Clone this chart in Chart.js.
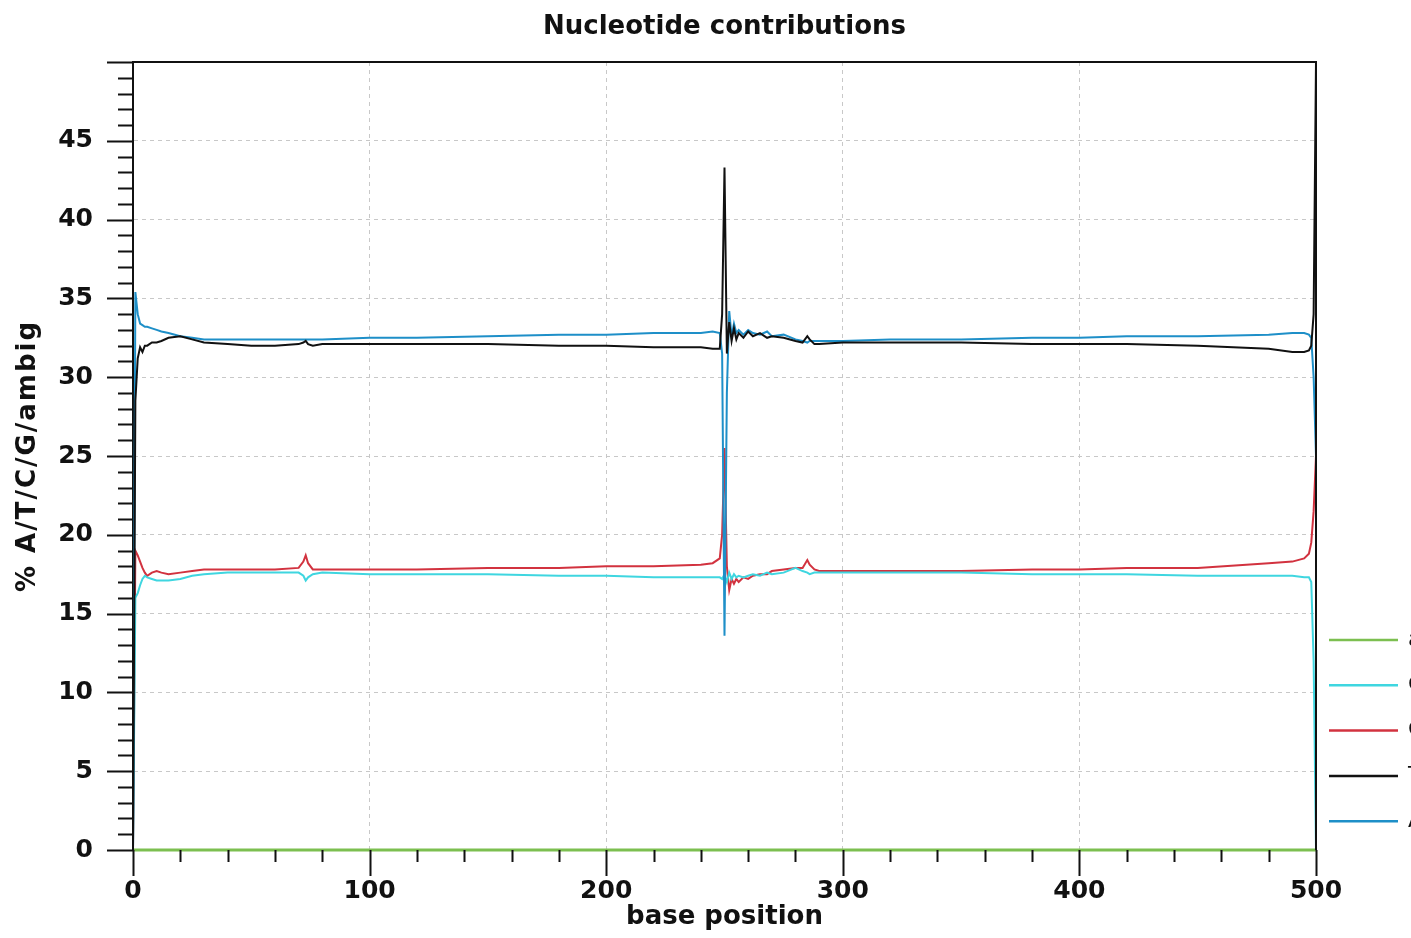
<!DOCTYPE html>
<html lang="en">
<head>
    <meta charset="UTF-8">
    <title>Nucleotide contributions</title>
    <script src="https://cdn.jsdelivr.net/npm/chart.js"></script>
    <style>
        body { margin: 0; background: #fff; }
        #wrap { width: 1411px; height: 938px; }
    </style>
</head>
<body>
<div id="wrap"><canvas id="chart" width="1411" height="938"></canvas></div>

<script>
    const positions = [0, 1, 2, 3, 4, 5, 6, 8, 10, 12,
        15, 20, 25, 30, 40, 50, 60, 70, 72, 73,
        74, 76, 80, 100, 120, 150, 180, 200, 220, 240,
        245, 248, 249, 250, 251, 252, 253, 254, 255, 256,
        258, 260, 262, 265, 268, 270, 275, 280, 283, 285,
        286, 288, 290, 300, 320, 350, 380, 400, 420, 450,
        480, 490, 495, 497, 498, 499, 500];

    const valuesA = [0, 35.4, 34.0, 33.4, 33.3, 33.2, 33.2, 33.1, 33.0, 32.9,
        32.8, 32.6, 32.5, 32.4, 32.4, 32.4, 32.4, 32.4, 32.4, 32.4,
        32.4, 32.4, 32.4, 32.5, 32.5, 32.6, 32.7, 32.7, 32.8, 32.8,
        32.9, 32.8, 31.5, 13.6, 29.0, 34.2, 32.6, 33.4, 32.8, 33.0,
        32.7, 33.0, 32.8, 32.7, 32.9, 32.6, 32.7, 32.4, 32.3, 32.2,
        32.3, 32.3, 32.3, 32.3, 32.4, 32.4, 32.5, 32.5, 32.6, 32.6,
        32.7, 32.8, 32.8, 32.7, 32.5, 30.0, 25.0];

    const valuesT = [0, 28.5, 31.2, 31.9, 31.6, 32.0, 32.0, 32.2, 32.2, 32.3,
        32.5, 32.6, 32.4, 32.2, 32.1, 32.0, 32.0, 32.1, 32.2, 32.3,
        32.1, 32.0, 32.1, 32.1, 32.1, 32.1, 32.0, 32.0, 31.9, 31.9,
        31.8, 31.8, 34.0, 43.3, 31.5, 33.5, 32.3, 33.1, 32.4, 32.8,
        32.5, 32.9, 32.6, 32.8, 32.5, 32.6, 32.5, 32.3, 32.2, 32.6,
        32.4, 32.1, 32.1, 32.2, 32.2, 32.2, 32.1, 32.1, 32.1, 32.0,
        31.8, 31.6, 31.6, 31.7, 32.0, 34.0, 50.0];

    const valuesG = [0, 19.0, 18.7, 18.3, 17.9, 17.6, 17.4, 17.6, 17.7, 17.6,
        17.5, 17.6, 17.7, 17.8, 17.8, 17.8, 17.8, 17.9, 18.3, 18.7,
        18.2, 17.8, 17.8, 17.8, 17.8, 17.9, 17.9, 18.0, 18.0, 18.1,
        18.2, 18.5, 20.0, 25.5, 18.0, 16.5, 17.2, 16.9, 17.2, 17.0,
        17.3, 17.2, 17.4, 17.5, 17.5, 17.7, 17.8, 17.9, 17.9, 18.4,
        18.1, 17.8, 17.7, 17.7, 17.7, 17.7, 17.8, 17.8, 17.9, 17.9,
        18.2, 18.3, 18.5, 18.8, 19.5, 21.5, 25.0];

    const valuesC = [0, 16.0, 16.3, 16.8, 17.2, 17.4, 17.3, 17.2, 17.1, 17.1,
        17.1, 17.2, 17.4, 17.5, 17.6, 17.6, 17.6, 17.6, 17.4, 17.1,
        17.3, 17.5, 17.6, 17.5, 17.5, 17.5, 17.4, 17.4, 17.3, 17.3,
        17.3, 17.3, 17.2, 17.5, 17.0, 17.6, 17.2, 17.5, 17.3, 17.4,
        17.3, 17.4, 17.5, 17.4, 17.6, 17.5, 17.6, 17.9, 17.7, 17.6,
        17.5, 17.6, 17.6, 17.6, 17.6, 17.6, 17.5, 17.5, 17.5, 17.4,
        17.4, 17.4, 17.3, 17.3, 17.0, 12.0, 0];

    const ambigPositions = [0, 500];
    const valuesAmbig = [0, 0];

    const seriesLabels = ["ambig", "C", "G", "T", "A"];
    const seriesColors = ["#7cbf50", "#3fd6e0", "#d2323f", "#111111", "#1e8fc8"];

    const yTicks = [0, 5, 10, 15, 20, 25, 30, 35, 40, 45];
    const xTicks = [0, 100, 200, 300, 400, 500];

    function toPoints(xs, ys) {
        return xs.map((x, i) => ({ x: x, y: ys[i] }));
    }

    const FONT = "DejaVu Sans";

    // title, axis titles, minor ticks, frame and the clipped legend on the right
    const framePlugin = {
        id: 'frame',
        afterDraw(chart) {
            const ctx = chart.ctx;
            const xs = chart.scales.x;
            const ys = chart.scales.y;
            const area = chart.chartArea;
            ctx.save();
            ctx.strokeStyle = "#111";
            ctx.lineWidth = 2;
            ctx.beginPath();
            for (let v = 0; v <= 50; v++) {
                const py = Math.round(ys.getPixelForValue(v)) + 0.5;
                const len = v % 5 === 0 ? 26 : 15;
                ctx.moveTo(area.left - len, py);
                ctx.lineTo(area.left, py);
            }
            for (let v = 0; v <= 500; v += 20) {
                const px = Math.round(xs.getPixelForValue(v)) + 0.5;
                const len = v % 100 === 0 ? 26 : 12;
                ctx.moveTo(px, area.bottom);
                ctx.lineTo(px, area.bottom + len);
            }
            // top and right edges
            ctx.moveTo(area.left, area.top);
            ctx.lineTo(area.right, area.top);
            ctx.lineTo(area.right, area.bottom);
            ctx.stroke();

            ctx.fillStyle = "#111";
            ctx.font = "bold 26px '" + FONT + "'";
            ctx.textAlign = "center";
            ctx.textBaseline = "middle";
            ctx.fillText("Nucleotide contributions", (area.left + area.right) / 2, 27);
            ctx.fillText("base position", (area.left + area.right) / 2, 917);
            ctx.save();
            ctx.translate(28, (area.top + area.bottom) / 2);
            ctx.rotate(-Math.PI / 2);
            ctx.letterSpacing = "2px";
            ctx.fillText("% A/T/C/G/ambig", 0, 0);
            ctx.restore();

            // legend (runs off the right edge like the original)
            ctx.lineWidth = 2.5;
            ctx.textAlign = "left";
            ctx.font = "22px '" + FONT + "'";
            seriesLabels.forEach((lab, i) => {
                const ly = 640 + i * 45.3;
                ctx.strokeStyle = seriesColors[i];
                ctx.beginPath();
                ctx.moveTo(1329, ly);
                ctx.lineTo(1398, ly);
                ctx.stroke();
                ctx.fillStyle = "#111";
                ctx.fillText(lab, 1408, ly);
            });
            ctx.restore();
        }
    };

    const datasets = [
        { label: seriesLabels[4], data: toPoints(positions, valuesA), borderColor: seriesColors[4], order: 1 },
        { label: seriesLabels[3], data: toPoints(positions, valuesT), borderColor: seriesColors[3], order: 0 },
        { label: seriesLabels[2], data: toPoints(positions, valuesG), borderColor: seriesColors[2], order: 3 },
        { label: seriesLabels[1], data: toPoints(positions, valuesC), borderColor: seriesColors[1], order: 2 },
        { label: seriesLabels[0], data: toPoints(ambigPositions, valuesAmbig), borderColor: seriesColors[0], order: 4,
          clip: { left: 0, top: 0, right: 0, bottom: 4 }, borderWidth: 3 }
    ].map(d => Object.assign({ borderWidth: 2, pointRadius: 0, tension: 0, fill: false }, d));

    new Chart(document.getElementById("chart").getContext("2d"), {
        type: 'line',
        data: { datasets: datasets },
        options: {
            responsive: false,
            animation: false,
            layout: { padding: { top: 62, right: 95, left: 0, bottom: 0 } },
            plugins: {
                legend: { display: false },
                tooltip: { enabled: false }
            },
            scales: {
                x: {
                    type: 'linear',
                    min: 0,
                    max: 500,
                    afterFit: s => { s.height = 88; },
                    afterBuildTicks: s => { s.ticks = xTicks.map(v => ({ value: v })); },
                    grid: { color: "#c8c8c8", lineWidth: 1, drawTicks: false },
                    border: { display: true, color: "#111", width: 2, dash: [4, 4] },
                    ticks: { color: "#111", padding: 26, maxRotation: 0, font: { family: FONT, size: 25, weight: 'bold' } }
                },
                y: {
                    min: 0,
                    max: 50,
                    afterFit: s => { s.width = 133; },
                    afterBuildTicks: s => { s.ticks = yTicks.map(v => ({ value: v })); },
                    grid: { color: "#c8c8c8", lineWidth: 1, drawTicks: false },
                    border: { display: true, color: "#111", width: 2, dash: [4, 4] },
                    ticks: { color: "#111", padding: 40, font: { family: FONT, size: 25, weight: 'bold' } }
                }
            }
        },
        plugins: [framePlugin]
    });
</script>
</body>
</html>
